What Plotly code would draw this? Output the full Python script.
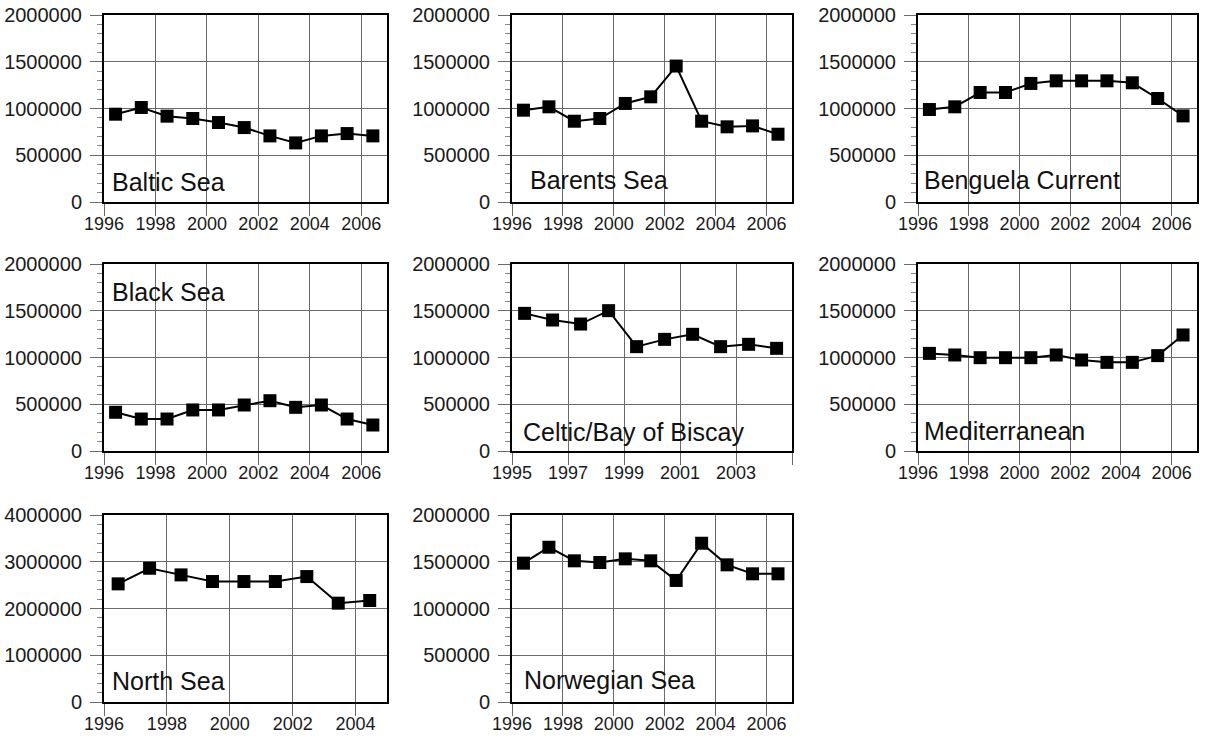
import plotly.graph_objects as go

# ---------------- data ----------------
years_96_06 = [1996, 1997, 1998, 1999, 2000, 2001, 2002, 2003, 2004, 2005, 2006]
years_95_04 = [1995, 1996, 1997, 1998, 1999, 2000, 2001, 2002, 2003, 2004]
years_96_04 = [1996, 1997, 1998, 1999, 2000, 2001, 2002, 2003, 2004]

baltic = [939000, 1011000, 918000, 893000, 850000, 796000, 707000, 632000, 707000, 732000, 707000]
barents = [982000, 1018000, 864000, 893000, 1054000, 1125000, 1454000, 864000, 804000, 814000, 725000]
benguela = [989000, 1018000, 1171000, 1171000, 1268000, 1296000, 1296000, 1296000, 1275000, 1107000, 921000]
black_sea = [414000, 342000, 342000, 439000, 439000, 492000, 538000, 467000, 492000, 342000, 278000]
celtic = [1472000, 1401000, 1358000, 1501000, 1116000, 1194000, 1248000, 1116000, 1141000, 1098000]
mediterranean = [1044000, 1027000, 998000, 998000, 998000, 1027000, 973000, 948000, 948000, 1020000, 1241000]
north_sea = [2527000, 2861000, 2719000, 2577000, 2577000, 2577000, 2683000, 2114000, 2171000]
norwegian = [1485000, 1655000, 1510000, 1492000, 1531000, 1510000, 1300000, 1698000, 1467000, 1371000, 1371000]

names = ["Baltic Sea", "Barents Sea", "Benguela Current", "Black Sea",
         "Celtic/Bay of Biscay", "Mediterranean", "North Sea", "Norwegian Sea"]
series_years = [years_96_06, years_96_06, years_96_06, years_96_06,
                years_95_04, years_96_06, years_96_04, years_96_06]
series_vals = [baltic, barents, benguela, black_sea, celtic, mediterranean, north_sea, norwegian]
x_ranges = [[1996, 2007]] * 4 + [[1995, 2005], [1996, 2007], [1996, 2005], [1996, 2007]]
x_labels = [[1996, 1998, 2000, 2002, 2004, 2006]] * 4 + [
    [1995, 1997, 1999, 2001, 2003], [1996, 1998, 2000, 2002, 2004, 2006],
    [1996, 1998, 2000, 2002, 2004], [1996, 1998, 2000, 2002, 2004, 2006]]
y_max = [2000000] * 6 + [4000000, 2000000]

# ---------------- layout / style ----------------
W, H = 1215, 744
col_px = [(104, 387), (512, 792), (918, 1197)]
row_px = [(15, 202), (264, 451), (515, 702)]
label_pos = [(0.022, 0.107), (0.058, 0.118), (0.015, 0.115), (0.022, 0.85),
             (0.033, 0.104), (0.015, 0.108), (0.022, 0.114), (0.036, 0.118)]
MID_YEAR = 0.45
FONT = "Liberation Sans, Arial, sans-serif"
GRID = "#6a6a6a"

fig = go.Figure()
layout = dict(width=W, height=H,
              margin=dict(l=0, r=0, t=0, b=0, autoexpand=False),
              paper_bgcolor="white", plot_bgcolor="white", showlegend=False,
              font=dict(family=FONT, size=18, color="#1a1a1a"))
annotations = []

for i, (nm, yrs, vals) in enumerate(zip(names, series_years, series_vals)):
    r, c = divmod(i, 3)
    k = "" if i == 0 else str(i + 1)
    x0, x1 = col_px[c]
    t, b = row_px[r]
    lo, hi = x_ranges[i]
    tv = list(range(lo, hi + 1, 2))
    tt = [str(v) if v in x_labels[i] else "" for v in tv]
    fig.add_trace(go.Scatter(
        x=[y + MID_YEAR for y in yrs], y=vals, mode="lines+markers",
        xaxis="x" + k, yaxis="y" + k,
        line=dict(color="black", width=2),
        marker=dict(symbol="square", size=13, color="black"),
        hoverinfo="x+y"))
    layout["xaxis" + k] = dict(
        domain=[x0 / W, x1 / W], anchor="y" + k, range=x_ranges[i],
        tickmode="array", tickvals=tv, ticktext=tt,
        showgrid=True, gridcolor=GRID, gridwidth=1,
        ticks="outside", ticklen=12, tickcolor=GRID, tickwidth=1,
        ticklabelstandoff=-8,
        showline=True, mirror=True, linecolor="black", linewidth=2,
        zeroline=False, tickfont=dict(size=18, family=FONT, color="#1a1a1a"))
    layout["yaxis" + k] = dict(
        domain=[1 - b / H, 1 - t / H], anchor="x" + k, range=[0, y_max[i]],
        tick0=0, dtick=y_max[i] / 4, tickformat="d",
        showgrid=True, gridcolor=GRID, gridwidth=1,
        ticks="outside", ticklen=12, tickcolor=GRID, tickwidth=1,
        ticklabelstandoff=4,
        minor=dict(dtick=y_max[i] / 20, ticks="outside", ticklen=5,
                   tickcolor="#888888", tickwidth=1, showgrid=False),
        showline=True, mirror=True, linecolor="black", linewidth=2,
        zeroline=False, tickfont=dict(size=20, family=FONT, color="#1a1a1a"))
    lx, ly = label_pos[i]
    annotations.append(dict(
        text=nm, xref="x" + k + " domain", yref="y" + k + " domain",
        x=lx, y=ly, xanchor="left", yanchor="middle", showarrow=False,
        font=dict(size=25, family=FONT, color="#111111")))

layout["annotations"] = annotations
fig.update_layout(**layout)
fig.write_html("out.html", config={"displayModeBar": False},
               post_script="document.body.style.margin='0';document.body.style.overflow='hidden';")
